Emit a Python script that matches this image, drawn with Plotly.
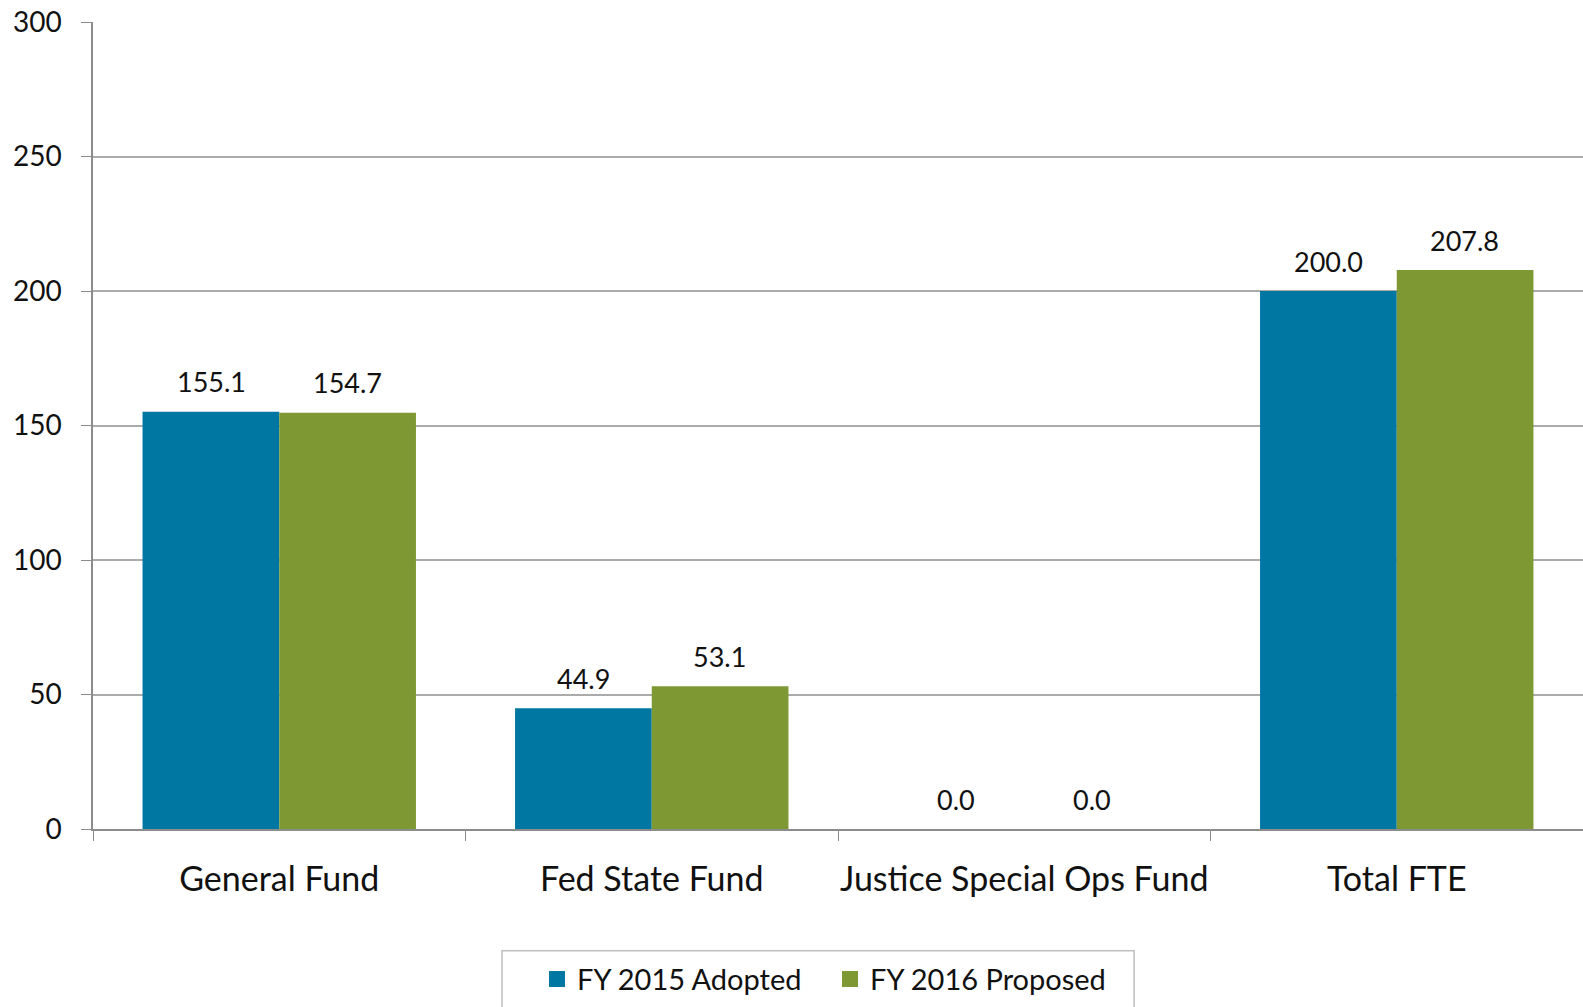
import plotly.graph_objects as go

categories = ["General Fund", "Fed State Fund", "Justice Special Ops Fund", "Total FTE"]
fy2015 = [155.1, 44.9, 0.0, 200.0]
fy2016 = [154.7, 53.1, 0.0, 207.8]
series_names = ["FY 2015 Adopted", "FY 2016 Proposed"]
y_ticks = [0, 50, 100, 150, 200, 250, 300]

BLUE = "#0077A3"
GREEN = "#7E9834"
FONT = "Lato"
TXT = "#111111"

fig = go.Figure()
fig.add_trace(go.Bar(x=categories, y=fy2015, name=series_names[0], marker_color=BLUE,
                     marker_line_width=0, showlegend=False))
fig.add_trace(go.Bar(x=categories, y=fy2016, name=series_names[1], marker_color=GREEN,
                     marker_line_width=0, showlegend=False))
# legend entries with larger square swatches
for name, col in zip(series_names, [BLUE, GREEN]):
    fig.add_trace(go.Scatter(x=[None], y=[None], mode="markers", name=name,
                             marker=dict(symbol="square", size=17, color=col)))

for vals, shift in [(fy2015, -68), (fy2016, 68)]:
    for c, v in zip(categories, vals):
        fig.add_annotation(x=c, y=v, xref="x", yref="y", text=f"{v:.1f}", showarrow=False,
                           xshift=shift, yshift=30, yanchor="middle",
                           font=dict(family=FONT, size=27, color=TXT))

# legend frame
fig.add_shape(type="rect", xref="paper", yref="paper", x0=0.2745, x1=0.6987,
              y0=-0.32, y1=-0.151, line=dict(color="#BFBFBF", width=1.5),
              fillcolor="rgba(0,0,0,0)", layer="below")

fig.update_layout(
    width=1583, height=1007,
    margin=dict(l=93, r=0, t=22, b=178),
    plot_bgcolor="white", paper_bgcolor="white",
    barmode="group", bargap=0.266, bargroupgap=0,
    font=dict(family=FONT, color=TXT),
    showlegend=True,
    legend=dict(orientation="h", x=0.298, xanchor="left", y=-0.186, yanchor="middle",
                borderwidth=0, bgcolor="rgba(0,0,0,0)",
                font=dict(family=FONT, size=29, color=TXT),
                entrywidth=248, entrywidthmode="pixels", itemwidth=30,
                traceorder="normal"),
)
fig.update_yaxes(range=[0, 300], tickvals=y_ticks, showgrid=True, gridcolor="#ABABAB",
                 gridwidth=1.5, showline=True, linecolor="#8C8C8C", linewidth=1.5,
                 ticks="outside", ticklen=10, tickcolor="#8C8C8C", zeroline=False,
                 automargin=False, ticklabelstandoff=14, ticklabeloverflow="allow",
                 tickfont=dict(family=FONT, size=28, color=TXT))
fig.update_xaxes(showline=True, linecolor="#8C8C8C", linewidth=1.5, ticks="outside",
                 tickson="boundaries", ticklen=10, tickcolor="#8C8C8C",
                 automargin=False, ticklabelstandoff=19, tickangle=0,
                 ticklabeloverflow="allow",
                 tickfont=dict(family=FONT, size=34, color=TXT))

fig.write_html("out.html", config={"displayModeBar": False},
               post_script="document.body.style.margin='0';document.body.style.overflow='hidden';")
